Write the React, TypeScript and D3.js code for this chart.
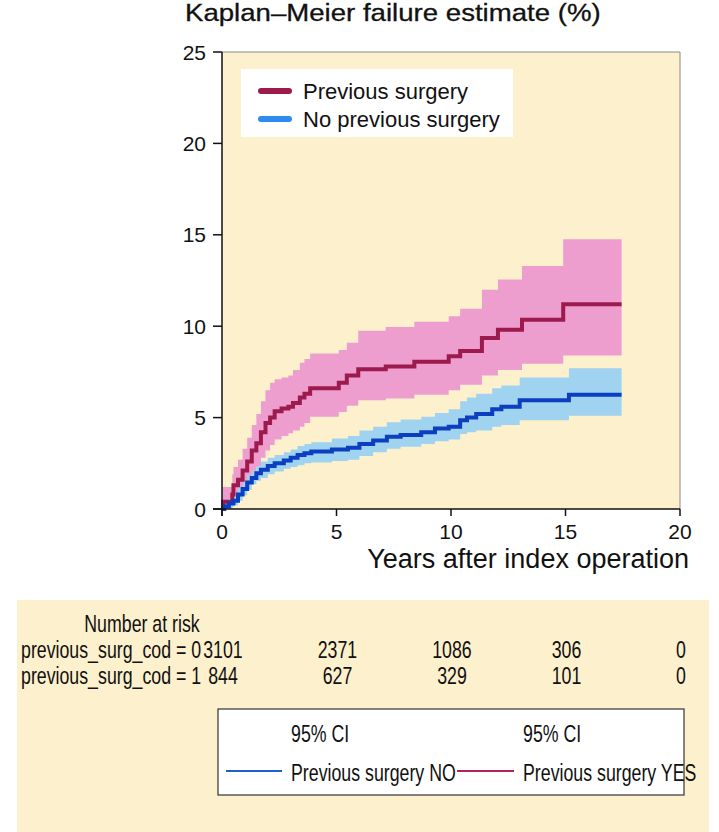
import React from 'react'
import * as d3 from 'd3'

// Kaplan-Meier failure estimate, previous surgery YES
const yesTime = [0, 0.05, 0.45, 0.5, 0.7, 0.9, 1.1, 1.3, 1.5, 1.7, 1.9, 2.1, 2.3, 2.6, 2.9, 3.1, 3.4, 3.6, 3.85, 5.1, 5.45, 5.95, 7.15, 8.4, 9.9, 10.4, 11.35, 12.05, 13.1, 14.9, 17.45]
const yesEst = [0, 0.4, 0.8, 1.3, 1.6, 2.1, 2.6, 3.2, 3.6, 4.2, 4.7, 5.0, 5.35, 5.5, 5.6, 5.8, 6.1, 6.3, 6.6, 6.9, 7.3, 7.65, 7.8, 8.05, 8.35, 8.65, 9.35, 9.8, 10.35, 11.2, 11.2]
const yesHi = [1.2, 1.2, 1.9, 2.3, 2.7, 3.3, 3.9, 4.6, 5.2, 5.9, 6.5, 6.9, 7.1, 7.2, 7.3, 7.6, 8.0, 8.2, 8.5, 8.7, 9.1, 9.75, 9.95, 10.25, 10.55, 10.95, 12.0, 12.55, 13.3, 14.75, 14.75]
const yesLo = [0, 0, 0.3, 0.6, 0.8, 1.1, 1.5, 1.9, 2.3, 2.8, 3.2, 3.5, 3.8, 4.0, 4.15, 4.3, 4.5, 4.7, 5.05, 5.3, 5.65, 5.95, 6.05, 6.25, 6.5, 6.8, 7.3, 7.6, 7.95, 8.4, 8.4]

// previous surgery NO
const noTime = [0, 0.1, 0.3, 0.5, 0.7, 0.9, 1.1, 1.3, 1.5, 1.7, 2.0, 2.3, 2.7, 3.0, 3.3, 3.6, 3.9, 4.8, 5.5, 6.0, 6.6, 7.2, 7.8, 8.7, 9.3, 9.9, 10.4, 10.7, 11.1, 11.8, 12.2, 13.0, 15.15, 17.45]
const noEst = [0, 0.15, 0.3, 0.45, 0.8, 1.1, 1.45, 1.7, 1.95, 2.15, 2.35, 2.5, 2.65, 2.8, 2.95, 3.05, 3.15, 3.25, 3.35, 3.55, 3.75, 3.95, 4.05, 4.2, 4.4, 4.5, 4.85, 5.0, 5.2, 5.45, 5.6, 5.95, 6.25, 6.25]
const noHi = [0, 0.3, 0.55, 0.8, 1.2, 1.5, 1.85, 2.1, 2.35, 2.6, 2.8, 2.95, 3.1, 3.25, 3.45, 3.55, 3.65, 3.85, 4.0, 4.3, 4.5, 4.75, 4.9, 5.05, 5.25, 5.45, 5.9, 6.1, 6.3, 6.6, 6.75, 7.2, 7.7, 7.7]
const noLo = [0, 0, 0.1, 0.2, 0.45, 0.75, 1.05, 1.35, 1.55, 1.7, 1.9, 2.05, 2.2, 2.3, 2.4, 2.5, 2.55, 2.62, 2.7, 2.9, 3.1, 3.3, 3.4, 3.55, 3.7, 3.8, 4.1, 4.2, 4.3, 4.5, 4.6, 4.85, 5.1, 5.1]

const xTicks = [0, 5, 10, 15, 20]
const yTicks = [0, 5, 10, 15, 20, 25]
const riskNo = [3101, 2371, 1086, 306, 0]
const riskYes = [844, 627, 329, 101, 0]

const CREAM = '#fdf0cd'
const PINK = '#ee9dcf'
const SKY = '#9fd3ef'
const MAROON = '#9c1a4c'
const NAVY = '#0c3fbf'
const LEG_BLUE = '#2e8cf0'
const FONT = '"Liberation Sans", Arial, Helvetica, sans-serif'

type Pt = { t: number; v: number; lo: number; hi: number }

const zip = (t: number[], v: number[], lo: number[], hi: number[]): Pt[] =>
  t.map((d, i) => ({ t: d, v: v[i], lo: lo[i], hi: hi[i] }))

const App: React.FC = () => {
  const width = 719
  const height = 832
  const x = d3.scaleLinear().domain([0, 20]).range([222, 680])
  const y = d3.scaleLinear().domain([0, 25]).range([509, 52])

  const yes = zip(yesTime, yesEst, yesLo, yesHi)
  const no = zip(noTime, noEst, noLo, noHi)

  const band = d3
    .area<Pt>()
    .x(d => x(d.t))
    .y0(d => y(d.lo))
    .y1(d => y(d.hi))
    .curve(d3.curveStepAfter)
  const line = d3
    .line<Pt>()
    .x(d => x(d.t))
    .y(d => y(d.v))
    .curve(d3.curveStepAfter)

  // the table text is a condensed face; squeeze Liberation Sans to fit
  const narrow = (tx: number, ty: number) => `translate(${tx},${ty}) scale(0.74,1)`
  const tableSize = 24

  return (
    <svg
      width={width}
      height={height}
      style={{ position: 'absolute', left: 0, top: 0, background: '#fff' }}
      fontFamily={FONT}
    >
      {/* title */}
      <text transform="translate(185,21) scale(1.15,1)" fontSize={24} fill="#111" stroke="#111" strokeWidth={0.3}>
        Kaplan–Meier failure estimate (%)
      </text>

      {/* plot area */}
      <rect x={x(0)} y={y(25)} width={x(20) - x(0)} height={y(0) - y(25)} fill={CREAM} />
      <path d={band(yes) || ''} fill={PINK} />
      <path d={band(no) || ''} fill={SKY} />
      <path d={line(yes) || ''} fill="none" stroke={MAROON} strokeWidth={4} />
      <path d={line(no) || ''} fill="none" stroke={NAVY} strokeWidth={4} />

      {/* frame */}
      <line x1={x(0)} x2={x(20)} y1={y(25)} y2={y(25)} stroke="#8a8a8a" strokeWidth={1} />
      <line x1={x(20)} x2={x(20)} y1={y(25)} y2={y(0)} stroke="#8a8a8a" strokeWidth={1} />
      <line x1={x(0)} x2={x(0)} y1={y(25)} y2={y(0) + 7} stroke="#111" strokeWidth={1.5} />
      <line x1={x(0) - 9} x2={x(20)} y1={y(0)} y2={y(0)} stroke="#111" strokeWidth={1.5} />

      {yTicks.map(t => (
        <g key={'y' + t}>
          <line x1={x(0) - 9} x2={x(0)} y1={y(t)} y2={y(t)} stroke="#111" strokeWidth={1.5} />
          <text x={206} y={y(t) + 7.5} fontSize={21} textAnchor="end" fill="#111">
            {t}
          </text>
        </g>
      ))}
      {xTicks.map(t => (
        <g key={'x' + t}>
          <line x1={x(t)} x2={x(t)} y1={y(0)} y2={y(0) + 7} stroke="#111" strokeWidth={1.5} />
          <text x={x(t)} y={539} fontSize={21} textAnchor="middle" fill="#111">
            {t}
          </text>
        </g>
      ))}
      <text x={689} y={568} fontSize={27} textAnchor="end" fill="#111">
        Years after index operation
      </text>

      {/* legend in plot */}
      <rect x={241} y={69} width={272} height={68} fill="#fff" />
      <line x1={261} x2={289} y1={91} y2={91} stroke={MAROON} strokeWidth={6} strokeLinecap="round" />
      <line x1={261} x2={289} y1={119} y2={119} stroke={LEG_BLUE} strokeWidth={6} strokeLinecap="round" />
      <text x={303} y={99} fontSize={22} fill="#111">Previous surgery</text>
      <text x={303} y={127} fontSize={22} fill="#111">No previous surgery</text>

      {/* number at risk */}
      <rect x={17} y={600} width={692} height={232} fill={CREAM} />
      <text transform={narrow(142, 632)} fontSize={tableSize} textAnchor="middle" fill="#111">
        Number at risk
      </text>
      <text transform={narrow(21, 658)} fontSize={tableSize} fill="#111">previous_surg_cod = 0</text>
      <text transform={narrow(21, 684)} fontSize={tableSize} fill="#111">previous_surg_cod = 1</text>
      {riskNo.map((n, i) => (
        <text key={'rn' + i} transform={narrow(x(xTicks[i]) + 1, 658)} fontSize={tableSize} textAnchor="middle" fill="#111">
          {n}
        </text>
      ))}
      {riskYes.map((n, i) => (
        <text key={'ry' + i} transform={narrow(x(xTicks[i]) + 1, 684)} fontSize={tableSize} textAnchor="middle" fill="#111">
          {n}
        </text>
      ))}

      {/* bottom legend */}
      <rect x={218} y={709} width={466} height={86} fill="#fff" stroke="#333" strokeWidth={1.2} />
      <text transform={narrow(291, 742)} fontSize={tableSize} fill="#111">95% CI</text>
      <text transform={narrow(523, 742)} fontSize={tableSize} fill="#111">95% CI</text>
      <line x1={226} x2={282} y1={771} y2={771} stroke="#1f5fd0" strokeWidth={2} />
      <text transform={narrow(291, 781)} fontSize={tableSize} fill="#111">Previous surgery NO</text>
      <line x1={457} x2={514} y1={771} y2={771} stroke="#b3245a" strokeWidth={2} />
      <text transform={narrow(523, 781)} fontSize={tableSize} fill="#111">Previous surgery YES</text>
    </svg>
  )
}

export default App
